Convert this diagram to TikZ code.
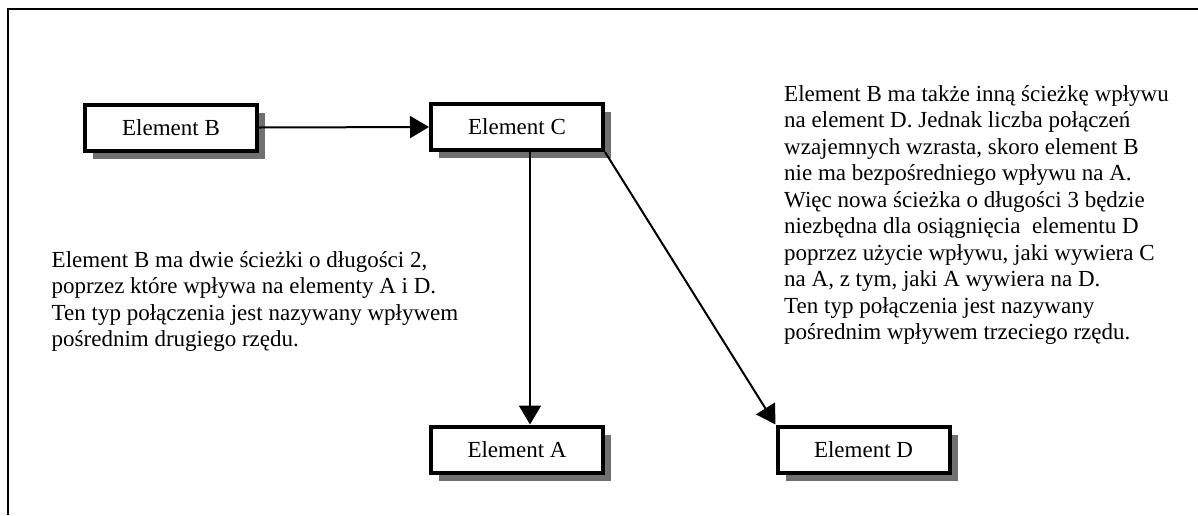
\documentclass[tikz,border=0pt]{standalone}
\usepackage{fontspec}
\setmainfont{Liberation Serif}
\usetikzlibrary{arrows.meta,shadows,calc}
\definecolor{shadowgray}{RGB}{112,112,112}
\begin{document}
\begin{tikzpicture}[x=1pt,y=-1pt,
  elem/.style={draw,line width=4pt,fill=white,minimum width=172pt,minimum height=46pt,inner sep=0pt,
    font=\fontsize{23}{26}\selectfont,
    drop shadow={shadow xshift=8pt,shadow yshift=-8pt,fill=shadowgray,opacity=1}},
  conn/.style={line width=2pt,-{Triangle[length=19pt,width=22pt]}},
  para/.style={anchor=north west,align=left,inner sep=0pt,font=\fontsize{23}{26.5}\selectfont},
  frameline/.style={line width=2pt}]
\useasboundingbox (0,0) rectangle (1198,515);
\draw[frameline] (1198,9) -- (8,9) -- (8,515);

\node[elem] (B) at (171,127.5) {Element B};
\node[elem] (C) at (517,127) {Element C};
\node[elem] (A) at (517,449.5) {Element A};
\node[elem] (D) at (863.5,449.5) {Element D};

\coordinate (colA) at (530,0);
\draw[conn] (B.east) -- (C.west);
\draw[conn] (C.south -| colA) -- (A.north -| colA);
\draw[conn] (C.south east) -- (D.north west);

\node[para] (ltext) at (51.5,250) {\rule{0pt}{17pt}Element B ma dwie ścieżki o długości 2,\\
poprzez które wpływa na elementy A i D.\\
Ten typ połączenia jest nazywany wpływem\\
pośrednim drugiego rzędu.};

\node[para] (rtext) at (784,84) {\rule{0pt}{17pt}Element B ma także inną ścieżkę wpływu\\
na element D. Jednak liczba połączeń\\
wzajemnych wzrasta, skoro element B\\
nie ma bezpośredniego wpływu na A.\\
Więc nowa ścieżka o długości 3 będzie\\
niezbędna dla osiągnięcia\ \ elementu D\\
poprzez użycie wpływu, jaki wywiera C\\
na A, z tym, jaki A wywiera na D.\\
Ten typ połączenia jest nazywany\\
pośrednim wpływem trzeciego rzędu.};
\end{tikzpicture}
\end{document}
